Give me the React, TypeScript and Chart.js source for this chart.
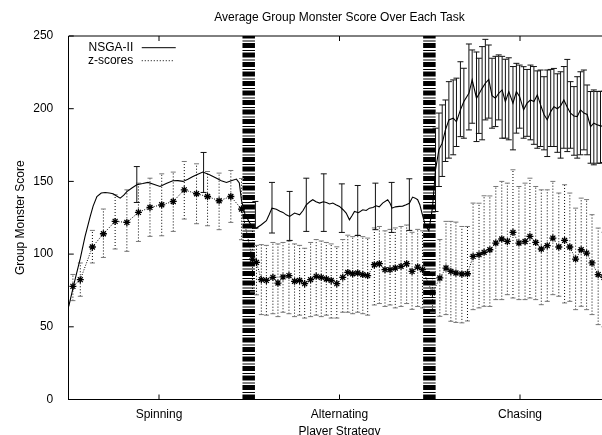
import React, { useEffect, useRef } from 'react';
import { Chart, registerables } from 'chart.js';

Chart.register(...registerables);

const FONT = '"Liberation Sans", Arial, Helvetica, sans-serif';

// axes
const taskTicks = [50, 150, 250];
const taskNames = ['Spinning', 'Alternating', 'Chasing'];
const taskBreaks = [99.7, 199.8];
const yTicks = [0, 50, 100, 150, 200, 250];

// NSGA-II mean line
const nsgaX = [
  0, 3, 6.4, 9, 11.9, 13.5, 15.6, 18, 20.2, 22.5, 24.6, 26.5, 28.5, 30.5, 32.2, 35, 37.7, 41, 43.9, 47,
  50.6, 54, 57.7, 60.5, 63.3, 66, 68.8, 71.5, 74.3, 78, 81.9, 84.5, 87.4, 90, 92.9, 94.5, 95.7, 97.5, 100, 102,
  104, 106.7, 109.5, 111, 112.6, 115, 117, 118.7, 120.5, 122.4, 125.1, 127.9, 129.8, 131.6, 133.5, 135.2, 137,
  139, 141, 142.7, 144.5, 146.3, 148, 150, 152, 153.7, 155.5, 157, 158.3, 160.5, 162.9, 164.8, 166.6, 168.5,
  170.3, 172, 173.9, 176.7, 178, 179.1, 181, 183.1, 185, 186.9, 188.7, 190.5, 192, 193.3, 194.5, 195.7, 197.5,
  199.5, 201.5,
  203.2, 205.1, 206.9, 208.7, 210.6, 213, 214.8, 217, 218.9, 221.7, 223.5, 225.9, 227.2, 229, 230.8, 232.7,
  234.5, 236.4, 238.2, 240.1, 241.9, 243.8, 246.1, 248, 249.8, 252, 253.9, 255.8, 257.7, 259.6, 261.4, 263.3,
  265.1, 267, 268.8, 270.7, 272.5, 274.3, 276.2, 278, 279.9, 281.7, 283.5, 285.4, 287.2, 289.1, 290.9, 292.7,
  294.6, 296.5, 298.4,
];
const nsgaY = [
  64, 80, 97, 112, 126, 133, 139.6, 142, 142.4, 142, 141.5, 140, 138.5, 140.5, 143, 145.5, 147.7, 148.5, 149.3, 148,
  146.5, 148.5, 150.4, 150.5, 150, 151.5, 153.4, 155, 156.4, 154.5, 152.2, 150.5, 149.3, 150.5, 151.6, 149, 137, 128, 122, 118,
  117.9, 120.2, 123, 127, 131.6, 130.9, 129.5, 128.7, 127, 125.9, 128.2, 127, 130, 133.9, 136, 137.4, 136,
  135.1, 136, 135.5, 134.5, 135.1, 134, 132.8, 130.5, 128.2, 123.6, 126.5, 129.3, 128.5, 130.5, 130, 131.6, 132,
  133.2, 132.5, 135.1, 137.4, 135, 131.6, 132.5, 132.8, 133, 133.9, 135, 139.2, 138.5, 137.4, 134, 128.2, 120,
  116, 132,
  158, 172, 176.3, 185.4, 192.3, 193.5, 191, 199.2, 204.9, 210.6, 219.8, 207.2, 210, 214, 217.5, 220.2,
  209, 207.2, 210.6, 212.9, 204.9, 211.8, 203.8, 211.8, 208.3, 199.2, 203.8, 206, 205, 209.5, 202.6, 196,
  192.3, 198, 201.4, 200, 202, 206, 201, 196.9, 195, 194.6, 199.2, 197, 196, 187.7, 190, 189,
  188.2, 188, 189,
];

// NSGA-II error bars
const nsgaErrX = [
  37.7, 74.7,
  103.4, 112.6, 122.4, 131.6, 141.3, 151.3, 160.1, 169.9, 178.9, 188.7,
  203.2, 205.1, 206.9, 208.7, 210.6, 213, 214.8, 217, 218.9, 221.7, 223.5, 225.9, 227.2, 229, 230.8, 232.7,
  234.5, 236.4, 238.2, 240.1, 241.9, 243.8, 246.1, 248, 249.8, 252, 253.9, 255.8, 257.7, 259.6, 261.4, 263.3,
  265.1, 267, 268.8, 270.7, 272.5, 274.3, 276.2, 278, 279.9, 281.7, 283.5, 285.4, 287.2, 289.1, 290.9, 292.7,
  294.6, 296.5, 298.4,
];
const nsgaErrLo = [
  135.5, 142.4,
  117.9, 114.5, 109.4, 115.6, 115.6, 114.9, 112.8, 116.8, 114.9, 116.3,
  129.3, 146.5, 153.4, 163.7, 166, 168.3, 174, 180.8, 179.7, 185.4, 190, 177.4, 183, 178.6, 192.3, 193.5,
  186.6, 187.7, 192.3, 179.7, 179.7, 178.6, 171.7, 183.2, 186.6, 179.7, 181, 178.6, 175.5, 172.8, 174, 171.7,
  167.1, 174, 174, 170, 166, 172.8, 170.5, 172.8, 168, 166, 168.3, 171.7, 168.3, 162.5, 161.4, 162.5,
  162.5, 163, 164,
];
const nsgaErrHi = [
  160.2, 169.9,
  136.2, 149.3, 143.1, 152.2, 155.2, 148.3, 147.2, 148.8, 149.3, 151.8,
  186.6, 197, 202.6, 206, 218.6, 219.8, 221, 232.3, 227.8, 244.5, 240.4, 239, 234.7, 242.7, 247.7, 243.8,
  234.7, 236, 237, 236, 234, 235, 229, 231.2, 230, 228.9, 227, 230, 229, 226, 226.6, 222,
  226.6, 227, 227.7, 224, 225.4, 229, 233.9, 218.6, 215.2, 222, 225.4, 226.6, 216.3, 211.8, 212.9, 211.8,
  212, 212, 213,
];

// z-scores mean (stars) and error bars
const zX = [
  2.3, 6.4, 13.1, 19.2, 25.7, 32.2, 38.6, 45, 51.5, 57.9, 64, 70.8, 76.9, 83.3, 89.8, 95.7,
  101.8, 104, 106.7, 109.5, 113.1, 115.9, 118.7, 122, 125.1, 127.9, 130.7, 134, 137.1, 139.9, 142.7, 145.4,
  148.5, 151.8, 154.6, 157.3, 160.1, 162.9, 165.6, 169.3, 172.1, 175.2, 178, 180.9, 184.1, 187.2, 190.2, 193.3, 196,
  201.5, 205.6, 209, 211.7, 214.5, 217.8, 220.9, 224, 227.3, 230.1, 233.3, 236.6, 239.9, 243, 246.1, 249.4,
  252.8, 255.5, 258.7, 261.8, 265.1, 268.2, 271.5, 274.7, 277.6, 280.8, 283.9, 286.9, 289.9, 293.3, 296.5,
];
const zY = [
  77.8, 82.4, 104.9, 114, 122.5, 121.8, 128.7, 132.1, 133.9, 136.2, 144.2, 141.5, 139.6, 136.7, 139.6, 131,
  96.6, 94.3, 82.4, 81.9, 84, 80.1, 84.3, 85.2, 81.3, 81.9, 79.7, 82.4, 84.7, 84, 82.9, 81.9,
  79.7, 84, 87.4, 86.5, 87, 85.9, 85.2, 92.7, 93.4, 89.3, 89.3, 90.4, 91.6, 93.4, 88.1, 91.1, 89.3,
  73.3, 83.6, 90.4, 88.1, 87, 86.3, 86.5, 98.4, 99.6, 101.2, 103, 107.6, 110.4, 108.7, 114.9, 107.6,
  108.7, 112.2, 108, 103.5, 105.8, 111, 104.9, 109.4, 104.9, 96.6, 103, 100.7, 93.9, 85.9, 84,
];
const zLo = [
  68, 71, 93.9, 97.7, 103.5, 101.9, 108.7, 112.2, 112.6, 115.6, 124.1, 120.9, 119.5, 116.8, 121.8, 109.9,
  74, 72, 58.4, 58, 59, 57, 60, 59, 57, 58, 56, 57, 58, 57, 58, 56,
  56, 60, 60, 59, 60, 59, 58, 65, 66, 64, 65, 63, 64, 66, 62, 64, 63,
  60, 57.2, 58.4, 53.8, 53, 52.7, 54, 61.8, 63, 64.1, 64, 68.7, 68.7, 72.1, 69.8, 68.7,
  68.7, 69.8, 68.7, 65.2, 67.5, 72.1, 71, 66.4, 67.5, 61.8, 64.1, 61.8, 58.4, 51.5, 50,
];
const zHi = [
  86, 93.9, 116.3, 131, 140.8, 144.2, 148.8, 152.2, 155.2, 156.4, 163.7, 162.1, 156.8, 155.7, 157.5, 152,
  121, 106, 106.5, 106, 108, 107, 108, 109, 107, 106, 104, 108, 110, 109, 108, 107,
  105, 110, 113, 112, 113, 112, 111, 118, 119, 116, 117, 118, 119, 120, 115, 117, 116,
  88, 110, 122.5, 122.5, 122, 119, 119, 135.1, 135, 140.1, 140, 146.5, 150, 148.8, 158, 146.5,
  148.8, 152.2, 146.5, 144.2, 144.2, 150, 142, 147.7, 142, 131.6, 138.5, 137.5, 127.1, 117.9, 115,
];

const toPoints = (xs: number[], ys: number[]) => xs.map((x, i) => ({ x, y: ys[i] }));
const toBars = (xs: number[], lo: number[], hi: number[]) =>
  xs.flatMap((x, i) => [{ x, y: lo[i] }, { x, y: hi[i] }, { x, y: null as any }]);

const gnuplotFrame = {
  id: 'gnuplotFrame',
  afterDraw(chart: any) {
    const { ctx, chartArea: a, scales } = chart;
    const xs = scales.x;
    const ys = scales.y;
    ctx.save();
    ctx.strokeStyle = '#000';
    ctx.lineWidth = 1;
    ctx.beginPath();
    ctx.moveTo(a.left, a.top);
    ctx.lineTo(a.right, a.top);
    yTicks.forEach((v) => {
      const p = ys.getPixelForValue(v);
      ctx.moveTo(a.left, p);
      ctx.lineTo(a.left + 5, p);
      ctx.moveTo(a.right, p);
      ctx.lineTo(a.right - 5, p);
    });
    taskTicks.forEach((v) => {
      const p = xs.getPixelForValue(v);
      ctx.moveTo(p, a.bottom);
      ctx.lineTo(p, a.bottom - 5);
      ctx.moveTo(p, a.top);
      ctx.lineTo(p, a.top + 5);
    });
    ctx.stroke();

    ctx.fillStyle = '#000';
    ctx.font = `12px ${FONT}`;
    ctx.textAlign = 'center';
    ctx.textBaseline = 'middle';
    ctx.fillText('Average Group Monster Score Over Each Task', (a.left + a.right) / 2, 18);

    // key, top left inside the plot
    ctx.textAlign = 'right';
    ctx.fillText('NSGA-II', a.left + 64.5, a.top + 11.7);
    ctx.fillText('z-scores', a.left + 64.5, a.top + 24.7);
    ctx.beginPath();
    ctx.moveTo(a.left + 73, a.top + 11.7);
    ctx.lineTo(a.left + 107, a.top + 11.7);
    ctx.stroke();
    ctx.setLineDash([1, 2]);
    ctx.beginPath();
    ctx.moveTo(a.left + 73, a.top + 24.7);
    ctx.lineTo(a.left + 106, a.top + 24.7);
    ctx.stroke();
    ctx.restore();
  },
};

const App: React.FC = () => {
  const canvasRef = useRef<HTMLCanvasElement>(null);

  useEffect(() => {
    document.body.style.margin = '0';
    if (!canvasRef.current) return;
    const font = { family: FONT, size: 12 };

    const chart = new Chart(canvasRef.current, {
      type: 'scatter',
      data: {
        datasets: [
          {
            label: 'NSGA-II',
            data: toPoints(nsgaX, nsgaY),
            showLine: true,
            borderColor: '#000',
            borderWidth: 1.1,
            pointRadius: 0,
          },
          {
            label: 'NSGA-II error',
            data: toBars(nsgaErrX, nsgaErrLo, nsgaErrHi),
            showLine: true,
            spanGaps: false,
            borderColor: '#111',
            borderWidth: 1,
            pointStyle: 'line',
            pointRadius: 3,
            pointBorderColor: '#111',
            pointBorderWidth: 1,
          },
          {
            label: 'z-scores',
            data: toPoints(zX, zY),
            showLine: true,
            borderColor: '#000',
            borderWidth: 1,
            borderDash: [1, 1.5],
            pointStyle: 'star',
            pointRadius: 3.5,
            pointBorderColor: '#000',
            pointBorderWidth: 1.3,
          },
          {
            label: 'z-scores error',
            data: toBars(zX, zLo, zHi),
            showLine: true,
            spanGaps: false,
            borderColor: '#000',
            borderWidth: 1,
            borderDash: [1, 2],
            pointStyle: 'line',
            pointRadius: 2.5,
            pointBorderColor: '#777',
            pointBorderWidth: 1,
          },
          {
            label: 'task breaks',
            data: taskBreaks.flatMap((x) => [{ x, y: 0 }, { x, y: 250 }, { x, y: null as any }]),
            showLine: true,
            spanGaps: false,
            borderColor: '#000',
            borderWidth: 12.5,
            borderDash: [5, 1.5, 1, 2],
            borderCapStyle: 'butt',
            pointRadius: 0,
          },
        ],
      },
      options: {
        responsive: false,
        animation: false,
        events: [],
        layout: { padding: { top: 36, right: 9.75, bottom: 0, left: 0 } },
        plugins: {
          legend: { display: false },
          tooltip: { enabled: false },
          title: { display: false },
        },
        scales: {
          x: {
            type: 'linear',
            min: 0,
            max: 300,
            afterBuildTicks: (s: any) => {
              s.ticks = taskTicks.map((value) => ({ value }));
            },
            afterFit: (s: any) => {
              s.height = 50.5;
            },
            ticks: {
              autoSkip: false,
              maxRotation: 0,
              padding: 0,
              color: '#000',
              font,
              callback: (_v: any, i: number) => taskNames[i],
            },
            grid: { display: false },
            border: { display: true, color: '#000', width: 1 },
            title: {
              display: true,
              text: 'Player Strategy',
              color: '#000',
              font,
              padding: { top: 0, bottom: 10.8 },
            },
          },
          y: {
            type: 'linear',
            min: 0,
            max: 250,
            afterBuildTicks: (s: any) => {
              s.ticks = yTicks.map((value) => ({ value }));
            },
            afterFit: (s: any) => {
              s.width = 68.75;
            },
            ticks: { padding: 7.5, color: '#000', font },
            grid: { display: false },
            border: { display: true, color: '#000', width: 1 },
            title: {
              display: true,
              text: 'Group Monster Score',
              color: '#000',
              font,
              padding: { top: 13.8, bottom: 0 },
            },
          },
        },
      },
      plugins: [gnuplotFrame],
    } as any);

    return () => chart.destroy();
  }, []);

  return (
    <div style={{ width: 602, height: 435, overflow: 'hidden', position: 'relative', background: '#fff' }}>
      <canvas ref={canvasRef} width={620} height={450} style={{ width: 620, height: 450, display: 'block' }} />
    </div>
  );
};

export default App;
